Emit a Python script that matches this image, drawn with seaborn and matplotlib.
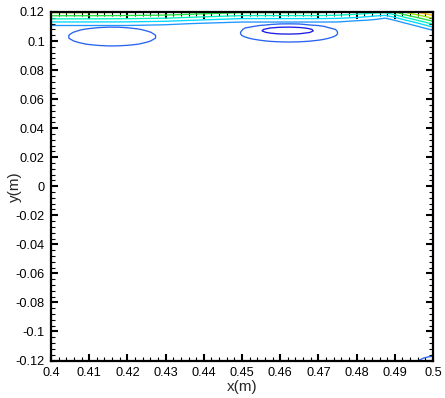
import numpy as np
import matplotlib
matplotlib.use("Agg")
import matplotlib.pyplot as plt
from matplotlib.ticker import FixedLocator, FixedFormatter, MultipleLocator
import seaborn as sns

# ---------------- data ----------------
levels = [0.1, 0.2, 0.3, 0.4, 0.5, 0.6, 0.7, 0.8, 0.9]

# near-wall band along the top edge
band_x = [0.40, 0.41, 0.42, 0.43, 0.44, 0.45, 0.46, 0.47, 0.475, 0.48,
          0.4825, 0.485, 0.4875, 0.49, 0.4925, 0.495, 0.4975, 0.50]
band_y = [0.104, 0.106, 0.108, 0.110, 0.112, 0.114, 0.116, 0.118, 0.120]
band_z = [
    [0.25, 0.25, 0.25, 0.25, 0.25, 0.25, 0.25, 0.25, 0.25, 0.25, 0.25, 0.25, 0.25, 0.25, 0.25, 0.25, 0.25, 0.25],
    [0.25, 0.25, 0.25, 0.25, 0.25, 0.25, 0.25, 0.25, 0.25, 0.25, 0.25, 0.25, 0.25, 0.25, 0.25, 0.25, 0.25, 0.26],
    [0.25, 0.25, 0.25, 0.25, 0.25, 0.25, 0.25, 0.25, 0.25, 0.25, 0.25, 0.25, 0.25, 0.25, 0.25, 0.25, 0.265, 0.32],
    [0.275, 0.275, 0.275, 0.2625, 0.25, 0.25, 0.25, 0.25, 0.25, 0.25, 0.25, 0.25, 0.25, 0.25, 0.25, 0.27, 0.331, 0.42],
    [0.347, 0.347, 0.346, 0.324, 0.2875, 0.265, 0.265, 0.265, 0.265, 0.25, 0.25, 0.25, 0.25, 0.25, 0.28, 0.344, 0.435, 0.52],
    [0.44, 0.44, 0.437, 0.418, 0.372, 0.329, 0.329, 0.329, 0.327, 0.30, 0.2875, 0.27, 0.2525, 0.2875, 0.367, 0.453, 0.539, 0.62],
    [0.533, 0.533, 0.528, 0.512, 0.468, 0.426, 0.426, 0.426, 0.418, 0.39, 0.368, 0.338, 0.306, 0.382, 0.478, 0.562, 0.642, 0.72],
    [0.627, 0.627, 0.619, 0.606, 0.564, 0.523, 0.523, 0.523, 0.509, 0.48, 0.459, 0.434, 0.418, 0.491, 0.589, 0.671, 0.746, 0.82],
    [0.72, 0.72, 0.71, 0.70, 0.66, 0.62, 0.62, 0.62, 0.60, 0.57, 0.55, 0.53, 0.53, 0.60, 0.70, 0.78, 0.85, 0.92],
]

# left closed contour near x=0.416, y=0.103
ell1_x = [0.4000, 0.4025, 0.4050, 0.4075, 0.4100, 0.4125, 0.4150,
          0.4175, 0.4200, 0.4225, 0.4250, 0.4275, 0.4300, 0.4325]
ell1_y = [0.094, 0.096, 0.098, 0.100, 0.102, 0.104, 0.106, 0.108, 0.110, 0.112]
ell1_z = [
    [0.25, 0.25, 0.25, 0.25, 0.25, 0.25, 0.247, 0.247, 0.25, 0.25, 0.25, 0.25, 0.25, 0.25],
    [0.25, 0.25, 0.25, 0.236, 0.222, 0.214, 0.209, 0.210, 0.215, 0.225, 0.240, 0.25, 0.25, 0.25],
    [0.25, 0.249, 0.226, 0.208, 0.194, 0.185, 0.181, 0.181, 0.186, 0.196, 0.211, 0.230, 0.25, 0.25],
    [0.25, 0.230, 0.207, 0.189, 0.175, 0.166, 0.162, 0.162, 0.167, 0.177, 0.192, 0.211, 0.235, 0.25],
    [0.248, 0.220, 0.197, 0.179, 0.165, 0.156, 0.152, 0.152, 0.158, 0.167, 0.182, 0.201, 0.226, 0.25],
    [0.248, 0.220, 0.197, 0.178, 0.165, 0.156, 0.151, 0.152, 0.157, 0.167, 0.182, 0.201, 0.225, 0.25],
    [0.25, 0.229, 0.206, 0.187, 0.173, 0.164, 0.160, 0.161, 0.166, 0.176, 0.191, 0.210, 0.234, 0.25],
    [0.25, 0.247, 0.224, 0.205, 0.192, 0.183, 0.178, 0.179, 0.184, 0.194, 0.209, 0.228, 0.25, 0.25],
    [0.25, 0.25, 0.25, 0.233, 0.219, 0.210, 0.206, 0.206, 0.212, 0.222, 0.236, 0.25, 0.25, 0.25],
    [0.25, 0.25, 0.25, 0.25, 0.25, 0.247, 0.243, 0.243, 0.248, 0.25, 0.25, 0.25, 0.25, 0.25],
]

# middle pair of closed contours near x=0.462, y=0.106
ell2_x = [0.4475, 0.4500, 0.4525, 0.4550, 0.4575, 0.4600, 0.4625,
          0.4650, 0.4675, 0.4700, 0.4725, 0.4750, 0.4775]
ell2_y = [0.098, 0.099, 0.100, 0.101, 0.102, 0.103, 0.104, 0.105, 0.106,
          0.107, 0.108, 0.109, 0.110, 0.111, 0.112, 0.113, 0.114]
ell2_z = [
    [0.25, 0.25, 0.25, 0.239, 0.230, 0.225, 0.223, 0.225, 0.231, 0.241, 0.25, 0.25, 0.25],
    [0.25, 0.25, 0.234, 0.221, 0.212, 0.207, 0.205, 0.207, 0.213, 0.223, 0.237, 0.25, 0.25],
    [0.25, 0.236, 0.219, 0.206, 0.196, 0.191, 0.189, 0.192, 0.198, 0.208, 0.221, 0.239, 0.25],
    [0.243, 0.223, 0.206, 0.193, 0.183, 0.178, 0.176, 0.179, 0.185, 0.194, 0.208, 0.226, 0.247],
    [0.233, 0.212, 0.195, 0.182, 0.173, 0.168, 0.166, 0.168, 0.174, 0.184, 0.198, 0.215, 0.237],
    [0.225, 0.204, 0.187, 0.174, 0.165, 0.160, 0.158, 0.160, 0.166, 0.176, 0.190, 0.207, 0.229],
    [0.220, 0.199, 0.182, 0.169, 0.157, 0.140, 0.136, 0.145, 0.161, 0.171, 0.185, 0.202, 0.224],
    [0.217, 0.197, 0.180, 0.143, 0.112, 0.095, 0.091, 0.100, 0.123, 0.160, 0.182, 0.200, 0.221],
    [0.217, 0.197, 0.160, 0.115, 0.084, 0.066, 0.062, 0.072, 0.095, 0.131, 0.181, 0.200, 0.221],
    [0.220, 0.199, 0.148, 0.103, 0.072, 0.055, 0.051, 0.060, 0.083, 0.120, 0.170, 0.202, 0.224],
    [0.225, 0.204, 0.153, 0.108, 0.077, 0.060, 0.056, 0.065, 0.088, 0.125, 0.175, 0.207, 0.229],
    [0.233, 0.212, 0.175, 0.130, 0.099, 0.081, 0.077, 0.087, 0.110, 0.146, 0.196, 0.215, 0.237],
    [0.243, 0.223, 0.206, 0.168, 0.137, 0.120, 0.116, 0.125, 0.148, 0.184, 0.208, 0.226, 0.247],
    [0.25, 0.236, 0.219, 0.206, 0.192, 0.175, 0.171, 0.180, 0.198, 0.208, 0.221, 0.239, 0.25],
    [0.25, 0.25, 0.234, 0.221, 0.212, 0.207, 0.205, 0.207, 0.213, 0.223, 0.237, 0.25, 0.25],
    [0.25, 0.25, 0.25, 0.239, 0.230, 0.225, 0.223, 0.225, 0.231, 0.241, 0.25, 0.25, 0.25],
    [0.25, 0.25, 0.25, 0.25, 0.25, 0.246, 0.244, 0.246, 0.25, 0.25, 0.25, 0.25, 0.25],
]

# small contour in the lower right corner
corner_x = [0.495, 0.4975, 0.500]
corner_y = [-0.120, -0.1175, -0.115]
corner_z = [
    [0.22, 0.18, 0.15],
    [0.25, 0.21, 0.19],
    [0.25, 0.25, 0.25],
]

x_ticks = [0.40, 0.41, 0.42, 0.43, 0.44, 0.45, 0.46, 0.47, 0.48, 0.49, 0.50]
x_tick_labels = ["0.4", "0.41", "0.42", "0.43", "0.44", "0.45", "0.46",
                 "0.47", "0.48", "0.49", "0.5"]
y_ticks = [-0.12, -0.10, -0.08, -0.06, -0.04, -0.02, 0.0, 0.02, 0.04,
           0.06, 0.08, 0.10, 0.12]
y_tick_labels = ["-0.12", "-0.1", "-0.08", "-0.06", "-0.04", "-0.02", "0",
                 "0.02", "0.04", "0.06", "0.08", "0.1", "0.12"]
x_label = "x(m)"
y_label = "y(m)"

# ---------------- style ----------------
level_colors = ["#1c1ce6", "#2864f0", "#1e96ff", "#00d8ff", "#00f0c0",
                "#20e040", "#a0e800", "#ffc000", "#ff7000"]

sns.set_theme(style="ticks")
plt.rcParams["font.family"] = ["Liberation Sans", "DejaVu Sans"]

fig = plt.figure(figsize=(4.45, 3.98), dpi=100)
ax_bottom_px = 360.5
ax = fig.add_axes([51 / 445, (398 - ax_bottom_px) / 398, 382 / 445, 348.5 / 398])
ax.set_facecolor("white")

fields = [
    (band_x, band_y, band_z),
    (ell1_x, ell1_y, ell1_z),
    (ell2_x, ell2_y, ell2_z),
    (corner_x, corner_y, corner_z),
]
for fx, fy, fz in fields:
    Z = np.array(fz)
    for lev, col in zip(levels, level_colors):
        if Z.min() < lev < Z.max():
            ax.contour(fx, fy, Z, levels=[lev], colors=[col],
                       linewidths=0.95, zorder=2)

ax.set_xlim(0.40, 0.50)
ax.set_ylim(-0.12, 0.12)

ax.xaxis.set_major_locator(FixedLocator(x_ticks))
ax.xaxis.set_major_formatter(FixedFormatter(x_tick_labels))
ax.yaxis.set_major_locator(FixedLocator(y_ticks))
ax.yaxis.set_major_formatter(FixedFormatter(y_tick_labels))
ax.xaxis.set_minor_locator(MultipleLocator(0.002))
ax.yaxis.set_minor_locator(MultipleLocator(0.004))

ax.tick_params(which="both", direction="in", top=True, right=True,
               colors="black", labelcolor="black")
ax.tick_params(which="major", length=5.2, width=1.5, labelsize=9.2, pad=4.5)
ax.tick_params(which="minor", length=2.6, width=0.8)

for s in ax.spines.values():
    s.set_visible(True)
    s.set_color("black")
    s.set_linewidth(1.6)
    s.set_zorder(5)

ax.set_xlabel(x_label, fontsize=11)
ax.set_ylabel(y_label, fontsize=11)
ax.xaxis.set_label_coords(0.5, -(380 - ax_bottom_px) / 348.5)
ax.yaxis.set_label_coords((22 - 51) / 382, 0.5)
ax.grid(False)

fig.savefig("out.png", dpi=100, facecolor="white")
